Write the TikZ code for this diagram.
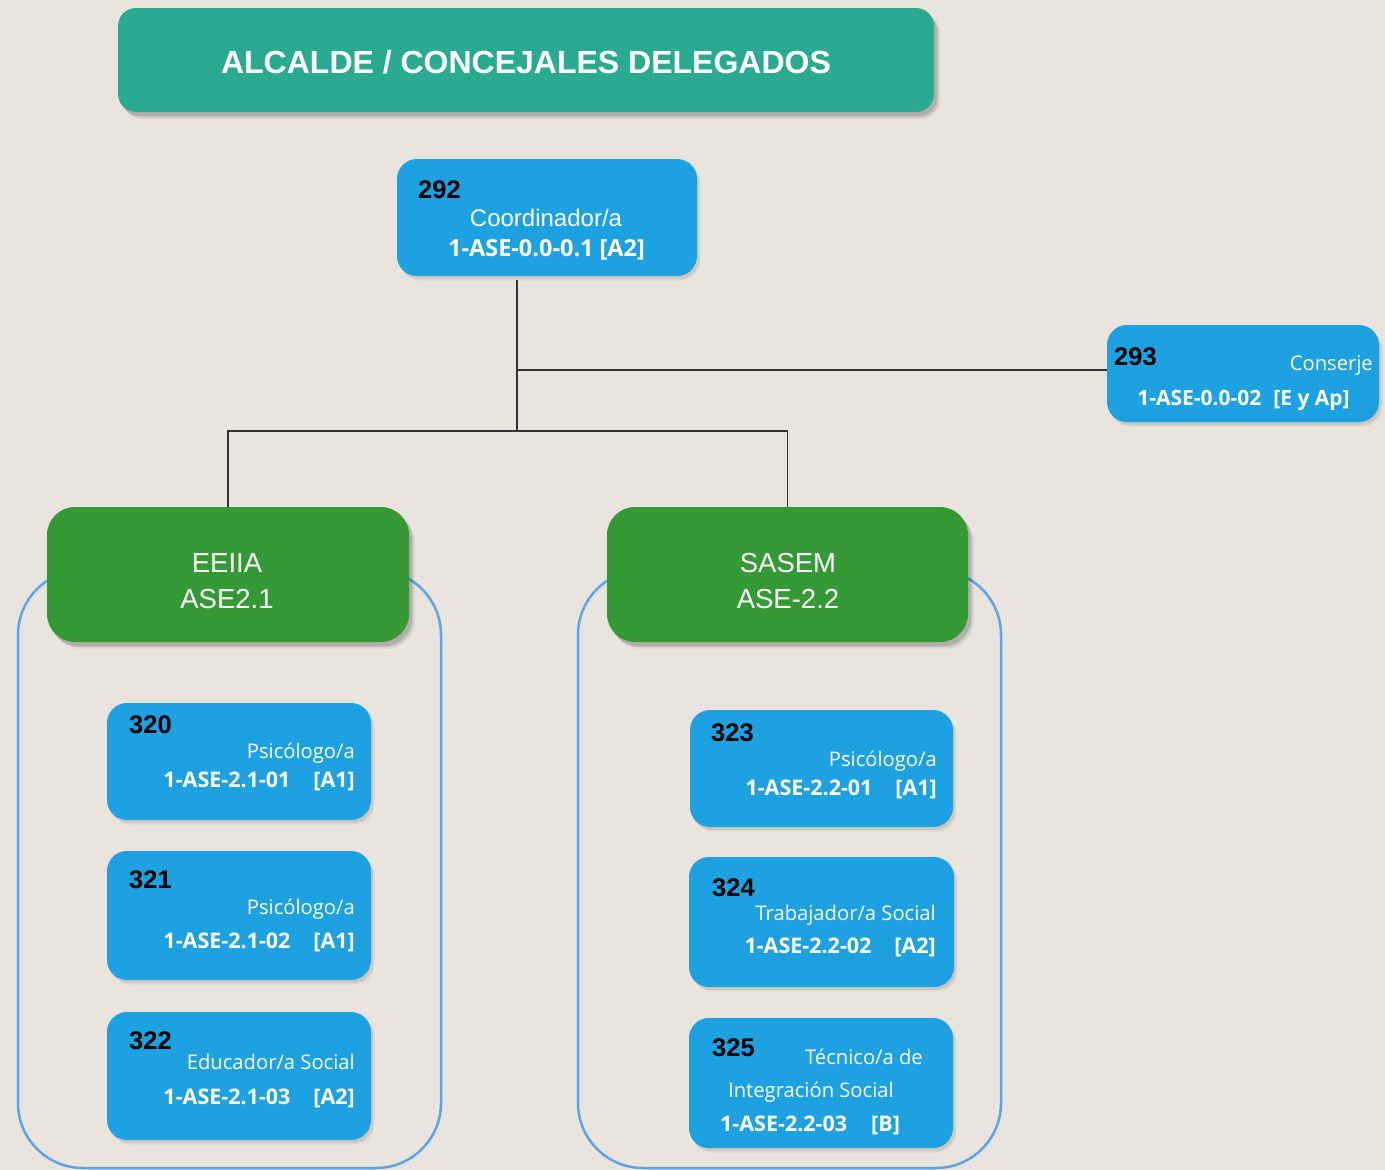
\documentclass[tikz,border=0pt]{standalone}
\usepackage{fontspec}
\setmainfont{Liberation Sans}
\newfontfamily\seg{Open Sans}
\usetikzlibrary{shadows}
\definecolor{bgc}{HTML}{E9E5DE}
\definecolor{titlec}{HTML}{2BAA92}
\definecolor{boxblue}{HTML}{1DA1E0}
\definecolor{boxgreen}{HTML}{359A35}
\definecolor{contc}{HTML}{5DA5E8}
\definecolor{linec}{HTML}{333333}
\newcommand{\fs}[1]{\fontsize{#1}{#1}\selectfont}
\tikzset{
  box/.style={rectangle, draw=none, inner sep=0pt},
  shad/.style={
    drop shadow={shadow xshift=6pt, shadow yshift=-7pt, opacity=0.05, fill=black},
    drop shadow={shadow xshift=4.5pt, shadow yshift=-5.5pt, opacity=0.08, fill=black},
    drop shadow={shadow xshift=3pt, shadow yshift=-4pt, opacity=0.12, fill=black}},
  lightshad/.style={
    drop shadow={shadow xshift=3.5pt, shadow yshift=-4.5pt, opacity=0.05, fill=black},
    drop shadow={shadow xshift=2pt, shadow yshift=-3pt, opacity=0.08, fill=black}},
  titlebox/.style={box, fill=titlec, rounded corners=18pt, shad},
  bluebox/.style={box, fill=boxblue, rounded corners=20pt, lightshad},
  greenbox/.style={box, fill=boxgreen, rounded corners=28pt, shad},
  container/.style={draw=contc, line width=2.5pt, rounded corners=65pt},
  conn/.style={draw=linec, line width=1.3pt},
  txt/.style={inner sep=0pt, text=white},
  num/.style={inner sep=0pt, text=black, font=\bfseries\fs{25.5}, anchor=base west},
  role/.style={txt, font=\seg\fs{20.2}},
  code/.style={txt, font=\seg\bfseries\fs{21.5}},
  gtxt/.style={txt, font=\fs{27.5}, anchor=base},
}
\begin{document}
\begin{tikzpicture}[x=1pt,y=-1pt]
\useasboundingbox (0,0) rectangle (1385,1170);
\fill[bgc] (0,0) rectangle (1385,1170);

% containers
\draw[container] (18,570) rectangle (441,1168);
\draw[container] (578,570) rectangle (1001,1168);

% title
\node[titlebox, minimum width=816pt, minimum height=104pt] (title) at (526,60) {};
\node[txt, font=\bfseries\fs{32}, anchor=base] (titletxt) at (526,73) {ALCALDE / CONCEJALES DELEGADOS};

% boxes
\node[bluebox, minimum width=300pt, minimum height=117pt] (b292) at (547,217.5) {};
\node[bluebox, minimum width=272pt, minimum height=97pt] (b293) at (1243,373.5) {};
\node[greenbox, minimum width=362pt, minimum height=135pt] (eeiia) at (228,574.5) {};
\node[greenbox, minimum width=361pt, minimum height=135pt] (sasem) at (787.5,574.5) {};
\node[bluebox, minimum width=264pt, minimum height=117pt] (b320) at (239,761.5) {};
\node[bluebox, minimum width=264pt, minimum height=129pt] (b321) at (239,915.5) {};
\node[bluebox, minimum width=264pt, minimum height=128pt] (b322) at (239,1076) {};
\node[bluebox, minimum width=263pt, minimum height=117pt] (b323) at (821.5,768.5) {};
\node[bluebox, minimum width=265pt, minimum height=130pt] (b324) at (821.5,922) {};
\node[bluebox, minimum width=264pt, minimum height=130pt] (b325) at (821,1083) {};

% connectors
\coordinate (j1) at (517,370);
\coordinate (j2) at (517,431);
\coordinate (top) at (517,280);
\draw[conn] (top) -- (j2);
\draw[conn] (j1) -- (j1 -| b293.west);
\draw[conn] (eeiia.north) |- (j2) -| (sasem.north);

% 292
\node[num] (n292) at (418,198) {292};
\node[txt, font=\fs{24}, anchor=base] (r292) at (546,226) {Coordinador/a};
\node[code, font=\seg\bfseries\fs{23.5}, anchor=base] (c292) at (546.5,256) {1-ASE-0.0-0.1 [A2]};

% 293
\node[num] (n293) at (1114,365) {293};
\node[role, anchor=base east] (r293) at (1373,370) {Conserje};
\node[code, font=\seg\bfseries\fs{21}, anchor=base] (c293) at (1243.5,405) {1-ASE-0.0-02\hspace{12pt}[E y Ap]};

% green
\node[gtxt] (g1a) at (227,572) {EEIIA};
\node[gtxt] (g1b) at (227,608) {ASE2.1};
\node[gtxt] (g2a) at (788,572) {SASEM};
\node[gtxt] (g2b) at (788,608) {ASE-2.2};

% 320
\node[num] (n320) at (129,733) {320};
\node[role, anchor=base east] (r320) at (355,758) {Psicólogo/a};
\node[code, anchor=base east] (c320) at (355,787) {1-ASE-2.1-01\hspace{23pt}[A1]};
% 321
\node[num] (n321) at (129,888) {321};
\node[role, anchor=base east] (r321) at (355,914) {Psicólogo/a};
\node[code, anchor=base east] (c321) at (355,948) {1-ASE-2.1-02\hspace{23pt}[A1]};
% 322
\node[num] (n322) at (129,1049) {322};
\node[role, anchor=base east] (r322) at (355,1069) {Educador/a Social};
\node[code, anchor=base east] (c322) at (355,1104) {1-ASE-2.1-03\hspace{23pt}[A2]};
% 323
\node[num] (n323) at (711,741) {323};
\node[role, anchor=base east] (r323) at (937,766) {Psicólogo/a};
\node[code, anchor=base east] (c323) at (937,795) {1-ASE-2.2-01\hspace{23pt}[A1]};
% 324
\node[num] (n324) at (712,896) {324};
\node[role, anchor=base east] (r324) at (936,920) {Trabajador/a Social};
\node[code, anchor=base east] (c324) at (936,953) {1-ASE-2.2-02\hspace{23pt}[A2]};
% 325
\node[num] (n325) at (712,1056) {325};
\node[role, anchor=base east] (r325a) at (923,1064) {Técnico/a de};
\node[role, anchor=base west] (r325b) at (728,1097) {Integración Social};
\node[code, anchor=base west] (c325) at (720,1131) {1-ASE-2.2-03\hspace{24pt}[B]};
\end{tikzpicture}
\end{document}
